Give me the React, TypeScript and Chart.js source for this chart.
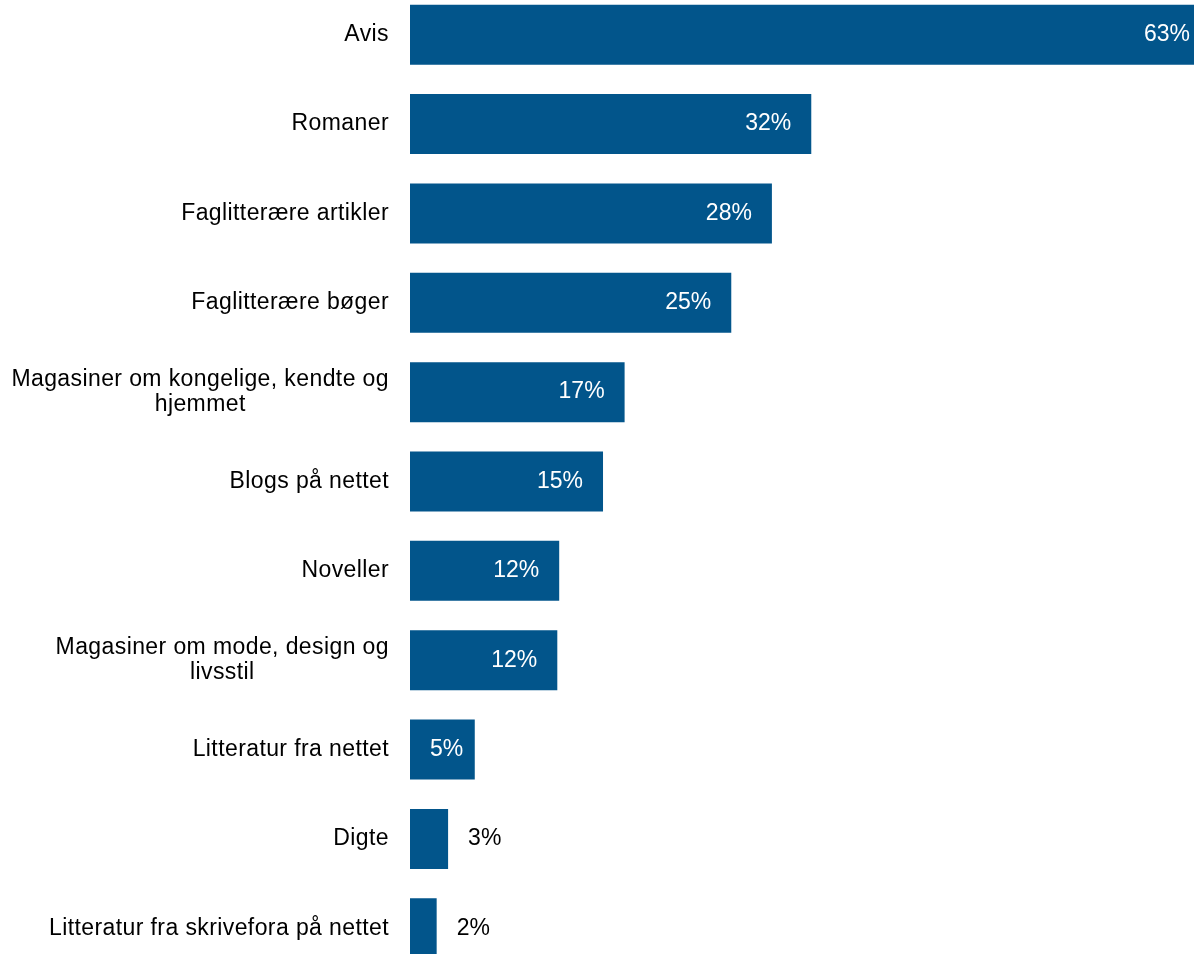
import React, { useEffect, useRef } from "react";
import { Chart, registerables } from "chart.js";

Chart.register(...registerables);

const categories: string[][] = [
  ["Avis"],
  ["Romaner"],
  ["Faglitterære artikler"],
  ["Faglitterære bøger"],
  ["Magasiner om kongelige, kendte og", "hjemmet"],
  ["Blogs på nettet"],
  ["Noveller"],
  ["Magasiner om mode, design og", "livsstil"],
  ["Litteratur fra nettet"],
  ["Digte"],
  ["Litteratur fra skrivefora på nettet"],
];
const values: number[] = [63, 31.6, 28.5, 25.3, 16.9, 15.2, 11.75, 11.6, 5.1, 3.0, 2.1];
const valueLabels: string[] = ["63%", "32%", "28%", "25%", "17%", "15%", "12%", "12%", "5%", "3%", "2%"];

const BAR_COLOR = "#02558b";
const FONT = "23px 'Liberation Sans', Arial, sans-serif";

const labelPlugin = {
  id: "customLabels",
  afterDatasetsDraw(chart: any) {
    const ctx = chart.ctx;
    const meta = chart.getDatasetMeta(0);
    const left = chart.chartArea.left;
    ctx.save();
    ctx.font = FONT;
    ctx.textBaseline = "middle";
    meta.data.forEach((bar: any, i: number) => {
      const y = bar.y;
      // category label
      const lines = categories[i];
      const rightEdge = left - 21;
      ctx.fillStyle = "#000000";
      (ctx as any).letterSpacing = "0.4px";
      if (lines.length === 1) {
        ctx.textAlign = "right";
        ctx.fillText(lines[0], rightEdge, y);
      } else {
        const maxW = Math.max(...lines.map((l) => ctx.measureText(l).width));
        const cx = rightEdge - maxW / 2;
        ctx.textAlign = "center";
        const lh = 25;
        const start = y - ((lines.length - 1) * lh) / 2;
        lines.forEach((l, k) => ctx.fillText(l, cx, start + k * lh));
      }
      (ctx as any).letterSpacing = "0px";
      // value label
      const v = values[i];
      const end = bar.x;
      const w = ctx.measureText(valueLabels[i]).width;
      if (v >= 4) {
        ctx.textAlign = "left";
        ctx.fillStyle = "#ffffff";
        const x = Math.max(end - 20 - w, left + 20);
        ctx.fillText(valueLabels[i], x, y);
      } else {
        ctx.textAlign = "left";
        ctx.fillStyle = "#000000";
        ctx.fillText(valueLabels[i], end + 20, y);
      }
    });
    ctx.restore();
  },
};

export default function App() {
  const ref = useRef<HTMLCanvasElement | null>(null);
  useEffect(() => {
    if (!ref.current) return;
    const chart = new Chart(ref.current, {
      type: "bar",
      data: {
        labels: categories.map((c) => c.join(" ")),
        datasets: [
          {
            data: values,
            backgroundColor: BAR_COLOR,
            borderWidth: 0,
            barPercentage: 60 / 89.33,
            categoryPercentage: 1,
          },
        ],
      },
      options: {
        indexAxis: "y",
        animation: false,
        responsive: true,
        maintainAspectRatio: false,
        layout: { padding: { left: 410, right: 0, top: 0, bottom: 0 } },
        plugins: {
          legend: { display: false },
          tooltip: { enabled: false },
        },
        scales: {
          x: { display: false, min: 0, max: 63 },
          y: { display: false },
        },
      },
      plugins: [labelPlugin],
    });
    return () => chart.destroy();
  }, []);

  return (
    <div
      style={{
        position: "fixed",
        left: 0,
        top: 0,
        width: 1194,
        height: 954,
        overflow: "hidden",
        background: "#ffffff",
      }}
    >
      <div style={{ position: "absolute", left: 0, top: -10, width: 1210, height: 983 }}>
        <canvas ref={ref} />
      </div>
    </div>
  );
}
